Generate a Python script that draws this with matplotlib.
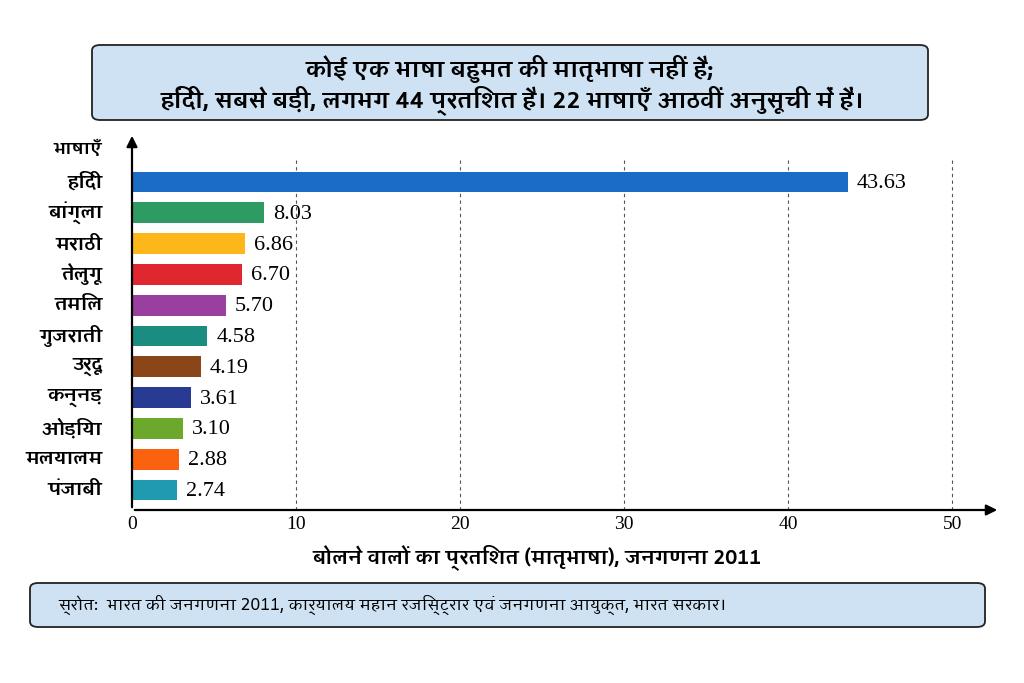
import matplotlib
matplotlib.use("Agg")
import matplotlib.pyplot as plt
from matplotlib import font_manager
from matplotlib.ft2font import FT2Font
from matplotlib.patches import FancyBboxPatch

# ---------------- data ----------------
languages = ["हिंदी", "बांग्ला", "मराठी", "तेलुगू", "तमिल", "गुजराती",
             "उर्दू", "कन्नड़", "ओड़िया", "मलयालम", "पंजाबी"]
percent = [43.63, 8.03, 6.86, 6.70, 5.70, 4.58, 4.19, 3.61, 3.10, 2.88, 2.74]
value_labels = ["43.63", "8.03", "6.86", "6.70", "5.70", "4.58",
                "4.19", "3.61", "3.10", "2.88", "2.74"]
bar_colors = ["#1a6cc4", "#2e9c62", "#fdb71a", "#e0262f", "#983f9f", "#1a8d80",
              "#8a4519", "#263b91", "#6ba82c", "#fa6210", "#1f9aae"]
xticks = [0, 10, 20, 30, 40, 50]
title_lines = ["कोई एक भाषा बहुमत की मातृभाषा नहीं है;",
               "हिंदी, सबसे बड़ी, लगभग 44 प्रतिशत है। 22 भाषाएँ आठवीं अनुसूची में हैं।"]
y_title = "भाषाएँ"
x_title = "बोलने वालों का प्रतिशत (मातृभाषा), जनगणना 2011"
source = "स्रोत:  भारत की जनगणना 2011, कार्यालय महान रजिस्ट्रार एवं जनगणना आयुक्त, भारत सरकार।"

# ---------------- fonts ----------------
deva = {}
for f in font_manager.fontManager.ttflist:
    try:
        ft = FT2Font(f.fname)
        if ft.get_char_index(0x0915):
            w = f.weight if isinstance(f.weight, int) else (700 if "bold" in str(f.weight).lower() else 400)
            deva.setdefault(f.name, []).append(w)
    except Exception:
        pass
names = sorted(deva, key=lambda n: (max(deva[n]) < 600, n))
fam = names[:1] + ["DejaVu Sans"]
plt.rcParams["font.family"] = fam
serif = ["Liberation Serif", "DejaVu Serif"]

fig = plt.figure(figsize=(10.24, 6.83), dpi=100)
fig.patch.set_facecolor("white")

W, H = 1024, 683
x0, x1 = 132, 1000
yb, yt = 510, 133
ax = fig.add_axes([x0 / W, 1 - yb / H, (x1 - x0) / W, (yb - yt) / H])
ax.set_xlim(0, 52.9)
ax.set_ylim(10.65, -1.59)
ax.axis("off")

ypos = list(range(len(languages)))
for t in xticks[1:]:
    ax.vlines(t, 10.65, -0.75, colors="#555555", linestyles=(0, (3, 3)), lw=0.8, zorder=1)

ax.barh(ypos, percent, height=0.68, color=bar_colors, zorder=2)
for y, v, s in zip(ypos, percent, value_labels):
    ax.text(v + 0.55, y + 0.05, s, va="center", ha="left", fontsize=16, family=serif, zorder=3)

for y, name in zip(ypos, languages):
    ax.text(-1.8, y, name, va="center", ha="right", fontsize=13.5, fontweight="bold")
ax.text(-1.8, -1.05, y_title, va="center", ha="right", fontsize=12.5, fontweight="bold")

ax.annotate("", xy=(1, 0), xycoords="axes fraction", xytext=(0, 0),
            arrowprops=dict(arrowstyle="-|>", color="black", lw=1.6, mutation_scale=16))
ax.annotate("", xy=(0, 1), xycoords="axes fraction", xytext=(0, 0),
            arrowprops=dict(arrowstyle="-|>", color="black", lw=1.6, mutation_scale=16))

for t in xticks:
    ax.text(t, 10.65 + 0.47, str(t), ha="center", va="center", fontsize=14, family=serif)

fig.text(537 / W, 1 - 557 / H, x_title, ha="center", va="center", fontsize=14, fontweight="bold")

tb = FancyBboxPatch((92 / W, 1 - 120 / H), (928 - 92) / W, (120 - 45) / H,
                    boxstyle="round,pad=0,rounding_size=0.008", transform=fig.transFigure,
                    facecolor="#cfe2f3", edgecolor="#222222", lw=1.3)
fig.patches.append(tb)
fig.text(510 / W, 1 - 69 / H, title_lines[0], ha="center", va="center", fontsize=16.5, fontweight="bold")
fig.text(512 / W, 1 - 100 / H, title_lines[1], ha="center", va="center", fontsize=16.5, fontweight="bold")

sb = FancyBboxPatch((30 / W, 1 - 627 / H), (985 - 30) / W, (627 - 583) / H,
                    boxstyle="round,pad=0,rounding_size=0.008", transform=fig.transFigure,
                    facecolor="#cfe2f3", edgecolor="#222222", lw=1.3)
fig.patches.append(sb)
fig.text(58 / W, 1 - 605 / H, source, ha="left", va="center", fontsize=11.5)

fig.savefig("out.png", dpi=100)
